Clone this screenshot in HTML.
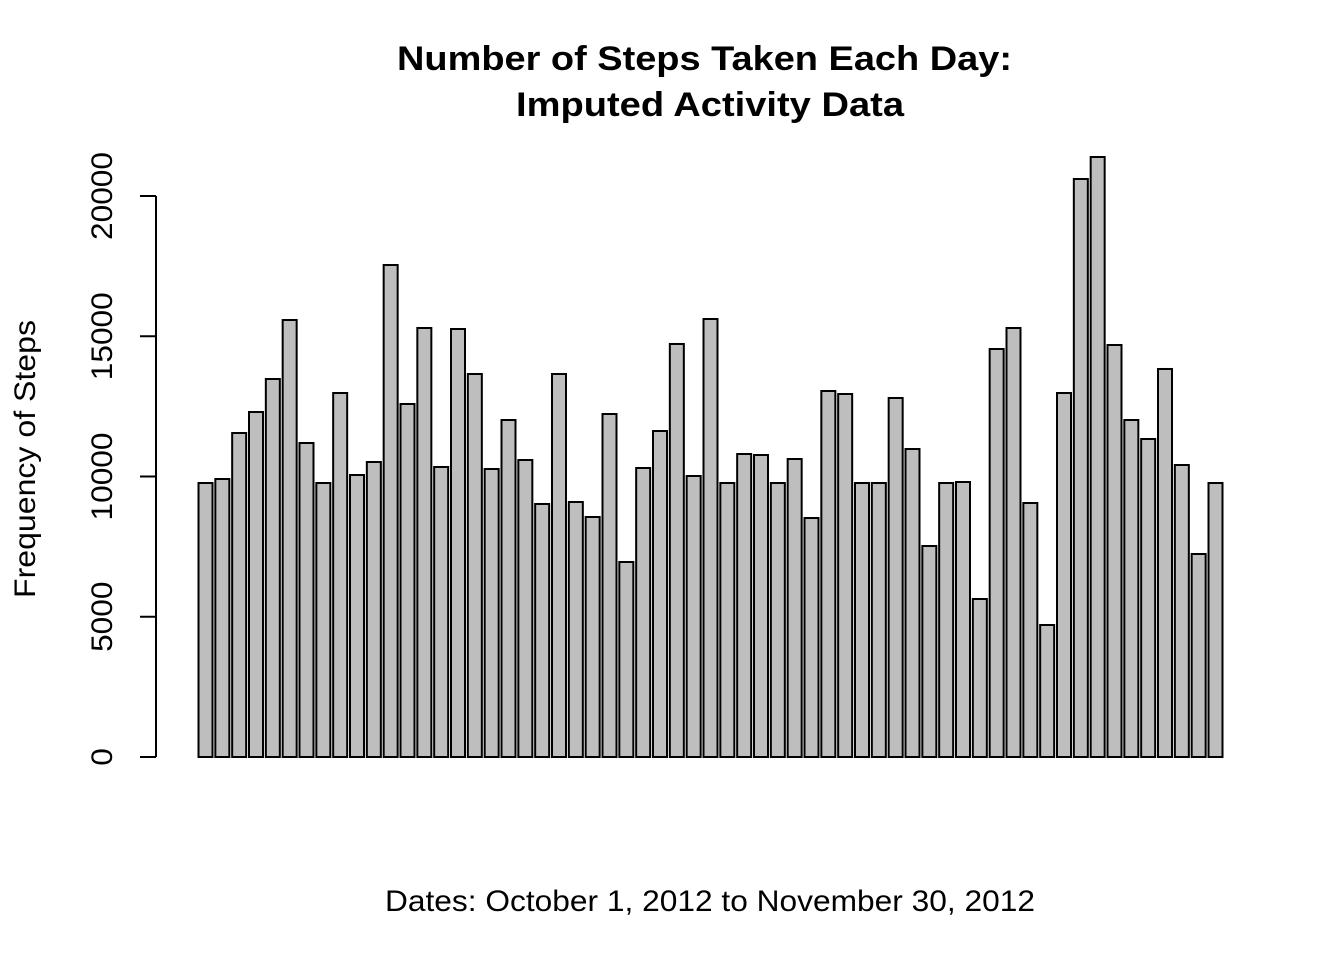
<!DOCTYPE html>
<html><head><meta charset="utf-8"><style>
body{margin:0;background:#fff}
svg text{font-family:"Liberation Sans",Arial,sans-serif;fill:#000}
</style></head><body>
<svg id="chart" width="1344" height="960">
<text x="704.5" y="70" font-size="34" font-weight="bold" text-anchor="middle" textLength="615" lengthAdjust="spacingAndGlyphs">Number of Steps Taken Each Day:</text>
<text x="710" y="116" font-size="34" font-weight="bold" text-anchor="middle" textLength="388" lengthAdjust="spacingAndGlyphs">Imputed Activity Data</text>
<text x="710" y="911" font-size="30" text-anchor="middle" textLength="650" lengthAdjust="spacingAndGlyphs">Dates: October 1, 2012 to November 30, 2012</text>
<text transform="translate(35,459) rotate(-90)" font-size="30" text-anchor="middle" textLength="278" lengthAdjust="spacingAndGlyphs">Frequency of Steps</text>
<g id="yaxis"></g>
<g id="bars"></g>
</svg>
<script>
const yTicks=[0,5000,10000,15000,20000];
const tickLabels=["0","5000","10000","15000","20000"];
const steps=[9768,9911,11551,12299,13476,15579,11194,9768,12977,10053,10517,17540,12585,15294,10339,15258,13654,10267,12014,10588,9020,13654,9091,8556,12228,6952,10303,11622,14724,10018,15615,9768,10802,10766,9768,10624,8520,13048,12941,9768,9768,12799,10980,7522,9768,9804,5633,14545,15294,9055,4706,12977,20606,21390,14688,12014,11337,13833,10410,7237,9768];
const NS="http://www.w3.org/2000/svg";
function y(v){return 757-v*(757-196)/20000;}
function xLeft(i){return 198.5+i*(1208-198)/(steps.length-1);}
const ya=document.getElementById('yaxis');
let l=document.createElementNS(NS,'line');
l.setAttribute('x1',156);l.setAttribute('x2',156);l.setAttribute('y1',y(0));l.setAttribute('y2',y(20000));
l.setAttribute('stroke','#000');l.setAttribute('stroke-width','2');


ya.appendChild(l);
yTicks.forEach((t,k)=>{
 const tk=document.createElementNS(NS,'line');
 tk.setAttribute('x1',140);tk.setAttribute('x2',156);tk.setAttribute('y1',y(t));tk.setAttribute('y2',y(t));
 tk.setAttribute('stroke','#000');tk.setAttribute('stroke-width','2');
 
 
 ya.appendChild(tk);
 const tx=document.createElementNS(NS,'text');
 tx.setAttribute('transform','translate(112,'+y(t)+') rotate(-90)');
 tx.setAttribute('font-size','30');tx.setAttribute('text-anchor','middle');
 tx.setAttribute('textLength',String(tickLabels[k].length*17.6));
 tx.setAttribute('lengthAdjust','spacingAndGlyphs');
 tx.textContent=tickLabels[k];
 
 
 ya.appendChild(tx);
});
const bg=document.getElementById('bars');
steps.forEach((v,i)=>{
 const r=document.createElementNS(NS,'rect');
 r.setAttribute('x',xLeft(i));r.setAttribute('width',14);
 r.setAttribute('y',y(v));r.setAttribute('height',y(0)-y(v));
 r.setAttribute('fill','#bebebe');r.setAttribute('stroke','#000');r.setAttribute('stroke-width','2');
 
 
 bg.appendChild(r);
});
</script>
</body></html>
